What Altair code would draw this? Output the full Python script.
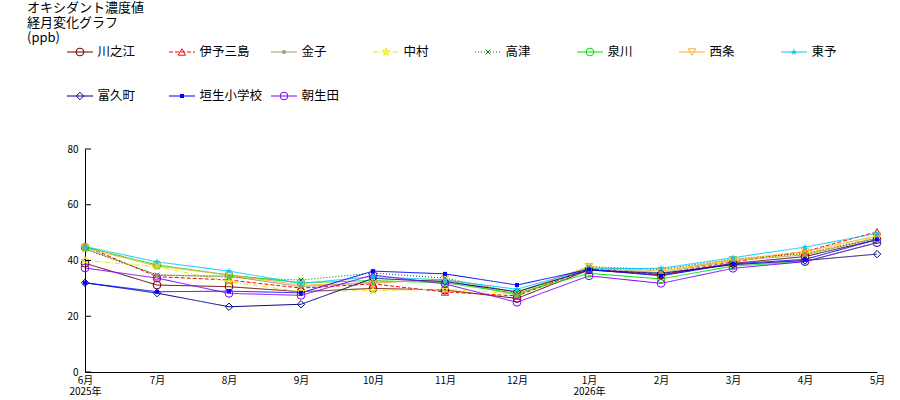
import altair as alt
import pandas as pd

months = ["6月", "7月", "8月", "9月", "10月", "11月", "12月", "1月", "2月", "3月", "4月", "5月"]
year_labels = {"6月": "2025年", "1月": "2026年"}
y_ticks = [0, 20, 40, 60, 80]

series = ["川之江", "伊予三島", "金子", "中村", "高津", "泉川", "西条", "東予", "富久町", "垣生小学校", "朝生田"]

v_kawanoe = [39.0, 31.2, 30.6, 28.8, 30.0, 29.4, 26.4, 36.6, 34.8, 39.0, 41.4, 47.5]
v_iyomishima = [45.2, 34.2, 33.0, 30.1, 31.6, 28.7, 27.3, 37.0, 35.0, 39.5, 43.2, 50.3]
v_kaneko = [44.3, 34.8, 34.4, 30.6, 32.2, 33.0, 27.6, 37.4, 35.6, 40.0, 42.0, 48.0]
v_nakamura = [40.0, 37.8, 32.4, 28.8, 29.2, 29.7, 28.0, 37.4, 36.5, 40.0, 42.5, 48.5]
v_takatsu = [44.0, 34.8, 34.0, 33.0, 35.5, 33.7, 28.5, 37.8, 36.8, 40.5, 42.5, 48.0]
v_izumikawa = [44.8, 38.4, 34.8, 32.0, 32.8, 32.0, 28.2, 35.4, 33.4, 38.0, 39.6, 46.4]
v_saijo = [44.5, 38.0, 34.8, 31.2, 31.8, 33.3, 28.5, 37.8, 36.2, 40.3, 43.2, 48.8]
v_toyo = [45.0, 39.5, 36.2, 31.8, 34.2, 33.0, 29.7, 37.0, 37.2, 41.0, 44.8, 49.7]
v_fukumachi = [32.0, 28.3, 23.4, 24.3, 33.6, 32.4, 28.8, 36.6, 35.4, 38.5, 40.0, 42.3]
v_habu = [32.0, 28.8, 29.0, 28.4, 36.2, 35.2, 31.2, 36.8, 34.5, 38.8, 40.4, 47.5]
v_aiida = [37.3, 33.7, 28.2, 27.5, 34.8, 31.6, 25.0, 34.5, 31.8, 37.2, 39.6, 46.4]

values = [v_kawanoe, v_iyomishima, v_kaneko, v_nakamura, v_takatsu, v_izumikawa,
          v_saijo, v_toyo, v_fukumachi, v_habu, v_aiida]

colors = ["#660000", "#ff0000", "#a09a6a", "#e8e800", "#006600", "#00e000",
          "#ffaa33", "#00ccff", "#000080", "#0000ff", "#8000ff"]
star = "M0,-1L0.24,-0.31L0.95,-0.31L0.38,0.12L0.59,0.81L0,0.4L-0.59,0.81L-0.38,0.12L-0.95,-0.31L-0.24,-0.31Z"
xmark = "M-1,-1L1,1M-1,1L1,-1"
shapes = ["circle", "triangle-up", "square", star, xmark, "circle",
          "triangle-down", star, "diamond", "square", "circle"]
dashes = [[1, 0], [4, 2], [1, 0], [5, 2, 1, 2], [1, 2], [1, 0],
          [1, 0], [1, 0], [1, 0], [1, 0], [1, 0]]
filled_series = ["金子", "東予", "垣生小学校"]
sizes = [60, 55, 12, 60, 22, 60, 55, 50, 55, 16, 60]

rows = []
for s, vals in zip(series, values):
    for m, v in zip(months, vals):
        rows.append({"series": s, "month": m, "value": v})
df = pd.DataFrame(rows)

leg = pd.DataFrame({"series": series,
                    "col": [i % 8 for i in range(len(series))],
                    "row": [i // 8 for i in range(len(series))]})

color = alt.Color("series:N", scale=alt.Scale(domain=series, range=colors), legend=None)
shape = alt.Shape("series:N", scale=alt.Scale(domain=series, range=shapes), legend=None)
dash = alt.StrokeDash("series:N", scale=alt.Scale(domain=series, range=dashes), legend=None)
size = alt.Size("series:N", scale=alt.Scale(type="ordinal", domain=series, range=sizes),
                legend=None)

FONT = "Noto Sans CJK JP"

year_expr = " : ".join(
    [f"datum.value == '{m}' ? ['{m}', '{y}']" for m, y in year_labels.items()]
) + " : datum.label"

x = alt.X("month:O", sort=months,
          scale=alt.Scale(type="point", padding=0),
          axis=alt.Axis(title=None, labelAngle=0, ticks=False, labelPadding=3,
                        labelFont=FONT, labelFontSize=10, labelColor="black",
                        labelExpr=year_expr, labelLineHeight=11.5,
                        domainColor="black"))
yscale = alt.Scale(domain=[0, 80], nice=False)
y = alt.Y("value:Q", scale=yscale,
          axis=alt.Axis(title=None, values=y_ticks, grid=False,
                        ticks=False, labelPadding=7,
                        domainColor="black", labelFont=FONT, labelFontSize=10,
                        labelColor="black"))

base = alt.Chart(df)
lines = base.mark_line(strokeWidth=1).encode(x=x, y=y, color=color, strokeDash=dash,
                                             detail="series:N")
pts_h = base.mark_point(filled=False, strokeWidth=1, opacity=1).encode(
    x=x, y=y, color=color, shape=shape, size=size
).transform_filter(~alt.FieldOneOfPredicate(field="series", oneOf=filled_series))
pts_f = base.mark_point(filled=True, opacity=1).encode(
    x=x, y=y, color=color, shape=shape, size=size
).transform_filter(alt.FieldOneOfPredicate(field="series", oneOf=filled_series))
ticks = alt.Chart(pd.DataFrame({"t": y_ticks})).mark_rule(color="black", strokeWidth=1).encode(
    x=alt.value(0), x2=alt.value(6), y=alt.Y("t:Q", scale=yscale))
main = alt.layer(lines, pts_h, pts_f, ticks)

lx = alt.Scale(domain=[0, 8], range=[-18, 798])
ly = alt.Scale(domain=[0, 1], range=[-97, -53])
lbase = alt.Chart(leg).transform_calculate(
    x0="datum.col", x1="datum.col + 0.255", xm="datum.col + 0.127", xt="datum.col + 0.3")
leg_rule = lbase.mark_rule(strokeWidth=1).encode(
    x=alt.X("x0:Q", scale=lx, axis=None), x2="x1:Q",
    y=alt.Y("row:Q", scale=ly, axis=None), color=color, strokeDash=dash)
leg_h = lbase.mark_point(filled=False, strokeWidth=1, opacity=1).encode(
    x=alt.X("xm:Q", scale=lx, axis=None), y=alt.Y("row:Q", scale=ly, axis=None),
    color=color, shape=shape, size=size
).transform_filter(~alt.FieldOneOfPredicate(field="series", oneOf=filled_series))
leg_f = lbase.mark_point(filled=True, opacity=1).encode(
    x=alt.X("xm:Q", scale=lx, axis=None), y=alt.Y("row:Q", scale=ly, axis=None),
    color=color, shape=shape, size=size
).transform_filter(alt.FieldOneOfPredicate(field="series", oneOf=filled_series))
leg_t = lbase.mark_text(align="left", baseline="middle", font=FONT, fontSize=12.5,
                        color="black").encode(
    x=alt.X("xt:Q", scale=lx, axis=None), y=alt.Y("row:Q", scale=ly, axis=None),
    text="series:N")
legend = alt.layer(leg_rule, leg_h, leg_f, leg_t)

chart = alt.layer(main, legend).resolve_scale(x="independent", y="independent").properties(
    width=792, height=223,
    autosize=alt.AutoSizeParams(type="none"),
    padding={"left": 85, "top": 149, "right": 23, "bottom": 28},
    title=alt.TitleParams(["オキシダント濃度値", "経月変化グラフ", "(ppb)"],
                          anchor="start", frame="group", orient="top",
                          font=FONT, fontSize=13, fontWeight="normal",
                          color="black", lineHeight=15, dx=-58, dy=3),
).configure(background="white").configure_view(stroke=None)

chart.save("out.html", embed_options={"renderer": "svg", "actions": False})
